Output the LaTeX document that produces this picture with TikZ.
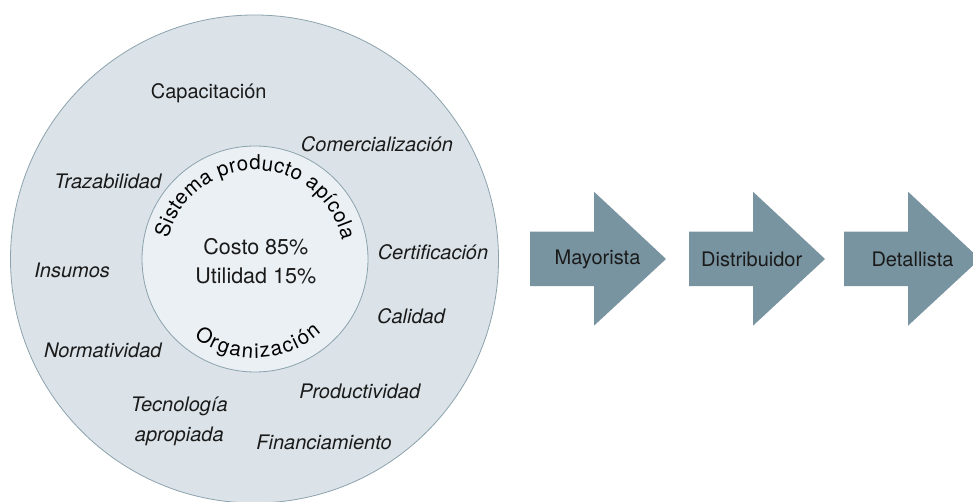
\documentclass[tikz,border=0pt]{standalone}
\usepackage{fontspec}
\setmainfont{TeX Gyre Heros}
\usetikzlibrary{decorations.text}
\definecolor{outerfill}{HTML}{DBE3E8}
\definecolor{innerfill}{HTML}{EAF0F3}
\definecolor{ringline}{HTML}{8CA2AD}
\definecolor{arrowfill}{HTML}{7994A1}
\definecolor{txt}{HTML}{1A1A1A}
\tikzset{
  lbl/.style={anchor=base, inner sep=0pt, text=txt, font=\fontsize{20}{24}\selectfont\itshape},
  lblup/.style={anchor=base, inner sep=0pt, text=txt, font=\fontsize{20}{24}\selectfont},
  midtxt/.style={anchor=base, inner sep=0pt, text=txt, align=center, font=\fontsize{21.5}{29}\selectfont},
  arrowtxt/.style={inner sep=0pt, text=txt, font=\fontsize{20}{24}\selectfont},
  ring/.style={draw=ringline, line width=0.8pt, circle, inner sep=0pt},
  chevron/.style={fill=arrowfill}
}
\begin{document}
\begin{tikzpicture}[x=1pt,y=1pt]
\useasboundingbox (0,0) rectangle (973,501);
\clip (0,0) rectangle (973,501);
% circles
\node[ring, fill=outerfill, minimum size=488pt] (outer) at (254.5,242) {};
\node[ring, fill=innerfill, minimum size=226pt] (inner) at (255,242) {};
% curved texts
\path[decorate, decoration={text along path, text align=fit to path,
  text={|\fontsize{20.5}{24}\selectfont|Sistema producto apícola}}]
  (inner.center) ++(167:89) arc (167:12:89);
\path[decorate, decoration={text along path, text align=fit to path,
  text={|\fontsize{20.5}{24}\selectfont|Organización}}]
  (inner.center) ++(232:99) arc (232:312:99);
% centre text
\node[midtxt] (cost) at (255.8,218) {Costo 85\%\\Utilidad 15\%};
% outer labels
\node[lblup] (cap) at (208.7,402) {Capacitación};
\node[lbl] (com) at (377,349) {Comercialización};
\node[lbl] (tra) at (107.8,312.3) {Trazabilidad};
\node[lbl] (cer) at (433,241.7) {Certificación};
\node[lbl] (ins) at (72.2,223.3) {Insumos};
\node[lbl] (cal) at (411,177.3) {Calidad};
\node[lbl] (nor) at (102.8,144) {Normatividad};
\node[lbl] (pro) at (359.7,102.3) {Productividad};
\node[lbl, align=center, font=\fontsize{20}{30}\selectfont\itshape] (tec) at (179.3,60) {Tecnología\\apropiada};
\node[lbl] (fin) at (324,51.3) {Financiamiento};
% arrows
\foreach \n/\x in {a1/530,a2/689,a3/844}{
  \fill[chevron] (\x,215) -- ++(64,0) -- ++(0,-39.7) -- ++(72,66.7) -- ++(-72,67.3) -- ++(0,-40) -- ++(-64,0) -- cycle;
}
\node[arrowtxt] (may) at (597.5,242) {Mayorista};
\node[arrowtxt] (dis) at (751.7,242) {Distribuidor};
\node[arrowtxt] (det) at (912.5,242) {Detallista};
\end{tikzpicture}
\end{document}
